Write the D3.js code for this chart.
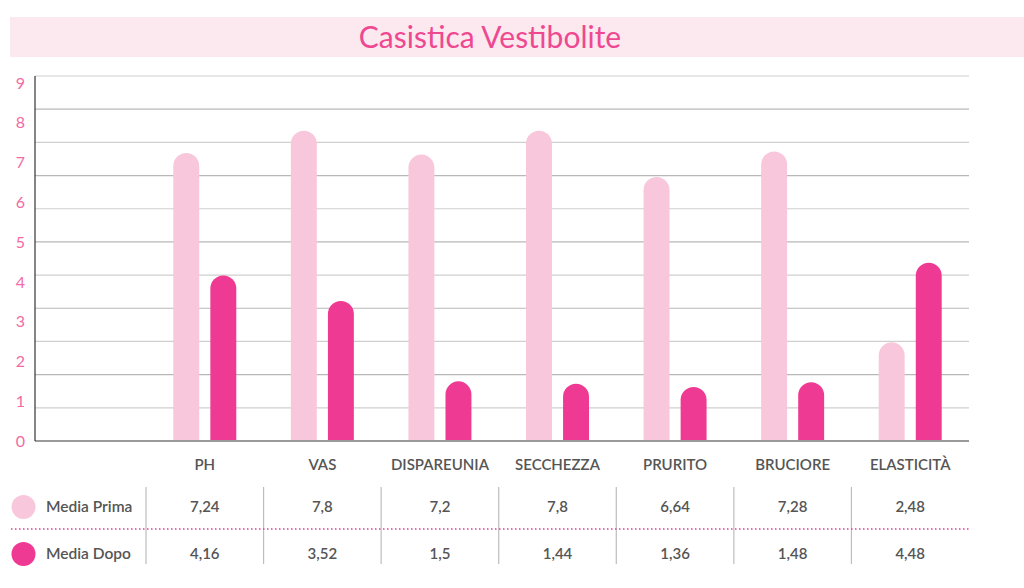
<!DOCTYPE html>
<html>
<head>
<meta charset="utf-8">
<script src="https://cdn.jsdelivr.net/npm/d3@7"></script>
<style>
  body { margin: 0; background: #fff; }
  svg { display: block; font-family: Lato, "Open Sans", sans-serif; }
</style>
</head>
<body>
<div id="chart"></div>
<script>
// Data
const categories = ["PH", "VAS", "DISPAREUNIA", "SECCHEZZA", "PRURITO", "BRUCIORE", "ELASTICITÀ"];
const mediaPrima = [7.24, 7.8, 7.2, 7.8, 6.64, 7.28, 2.48];
const mediaDopo = [4.16, 3.52, 1.5, 1.44, 1.36, 1.48, 4.48];
const seriesNames = ["Media Prima", "Media Dopo"];
const seriesColors = ["#f9c7db", "#ee3a92"];
const yTicks = [0, 1, 2, 3, 4, 5, 6, 7, 8, 9];

const width = 1024;
const height = 588;

const svg = d3
  .select("#chart")
  .append("svg")
  .attr("width", width)
  .attr("height", height);

// Title banner
svg
  .append("rect")
  .attr("x", 10)
  .attr("y", 17)
  .attr("width", width - 10)
  .attr("height", 40)
  .attr("fill", "#fce9f0");

svg
  .append("text")
  .attr("x", 490)
  .attr("y", 48)
  .attr("text-anchor", "middle")
  .attr("font-size", 30)
  .attr("fill", "#ee4890")
  .text("Casistica Vestibolite");

const plotLeft = 35;
const plotRight = 969;
const baseY = 441;

const x = d3.scaleBand().domain(categories).range([146, plotRight]);
const x1 = d3
  .scaleBand()
  .domain(seriesNames)
  .range([x.bandwidth() / 2 - 31.5, x.bandwidth() / 2 + 31.5])
  .paddingInner(0.3);

const y = d3.scaleLinear().domain([0, 9]).range([baseY, 83]);

// decorative grid (the picture's grid has 11 bands, not matching the labels)
const grid = d3.scaleLinear().domain([0, 11]).range([baseY, 76]);

svg
  .append("g")
  .attr("class", "grid")
  .selectAll("line")
  .data(grid.ticks(11).filter((d) => d > 0))
  .enter()
  .append("line")
  .attr("x1", plotLeft)
  .attr("x2", plotRight)
  .attr("y1", (d) => grid(d))
  .attr("y2", (d) => grid(d))
  .attr("stroke", (d, i) => (i % 2 ? "#b8b8b8" : "#cfcfcf"))
  .attr("stroke-width", 1.2);

// y labels
const yAxis = svg
  .append("g")
  .attr("transform", `translate(${plotLeft},0)`)
  .call(d3.axisLeft(y).tickValues(yTicks).tickSize(0).tickPadding(10));
yAxis.select(".domain").remove();
yAxis
  .selectAll("text")
  .attr("font-family", "Lato, 'Open Sans', sans-serif")
  .attr("font-size", 16)
  .attr("fill", "#f46aa3");

// bars
const barData = categories.flatMap((c, i) => [
  { cat: c, series: seriesNames[0], value: mediaPrima[i], color: seriesColors[0] },
  { cat: c, series: seriesNames[1], value: mediaDopo[i], color: seriesColors[1] },
]);

const roundTop = (d) => {
  const x0 = x(d.cat) + x1(d.series);
  const w = x1.bandwidth();
  const r = w / 2;
  const top = y(d.value);
  return `M${x0},${baseY} L${x0},${top + r} A${r},${r} 0 0 1 ${x0 + w},${top + r} L${x0 + w},${baseY} Z`;
};

svg
  .append("g")
  .selectAll("path")
  .data(barData)
  .enter()
  .append("path")
  .attr("d", roundTop)
  .attr("fill", (d) => d.color);

// axis lines
svg
  .append("line")
  .attr("x1", plotLeft)
  .attr("x2", plotRight)
  .attr("y1", baseY)
  .attr("y2", baseY)
  .attr("stroke", "#9a9a9a")
  .attr("stroke-width", 2);

svg
  .append("line")
  .attr("x1", plotLeft)
  .attr("x2", plotLeft)
  .attr("y1", 76)
  .attr("y2", baseY)
  .attr("stroke", "#333")
  .attr("stroke-width", 1.2);

// category labels
svg
  .append("g")
  .selectAll("text")
  .data(categories)
  .enter()
  .append("text")
  .attr("x", (d) => x(d) + x.bandwidth() / 2)
  .attr("y", 465)
  .attr("dy", "0.35em")
  .attr("text-anchor", "middle")
  .attr("font-size", 15)
  .attr("font-weight", 600)
  .attr("fill", "#555")
  .text((d) => d);

// data table
const rowY = [507, 554];
const rows = [mediaPrima, mediaDopo];

svg
  .append("g")
  .selectAll("line")
  .data(categories)
  .enter()
  .append("line")
  .attr("x1", (d) => x(d))
  .attr("x2", (d) => x(d))
  .attr("y1", 487)
  .attr("y2", 564)
  .attr("stroke", "#bdbdbd")
  .attr("stroke-width", 1.2);

svg
  .append("line")
  .attr("x1", 11)
  .attr("x2", plotRight)
  .attr("y1", 529)
  .attr("y2", 529)
  .attr("stroke", "#ee3a92")
  .attr("stroke-width", 1.5)
  .attr("stroke-dasharray", "1.5,2.5");

rows.forEach((vals, r) => {
  const g = svg.append("g");
  g.append("circle")
    .attr("cx", 23.5)
    .attr("cy", rowY[r])
    .attr("r", 12)
    .attr("fill", seriesColors[r]);
  g.append("text")
    .attr("x", 46)
    .attr("y", rowY[r])
    .attr("dy", "0.35em")
    .attr("font-size", 15.5)
    .attr("font-weight", 600)
    .attr("fill", "#555")
    .text(seriesNames[r]);
  g.selectAll("text.val")
    .data(vals)
    .enter()
    .append("text")
    .attr("class", "val")
    .attr("x", (d, i) => x(categories[i]) + x.bandwidth() / 2)
    .attr("y", rowY[r])
    .attr("dy", "0.35em")
    .attr("text-anchor", "middle")
    .attr("font-size", 15)
    .attr("font-weight", 600)
    .attr("fill", "#555")
    .text((d) => String(d).replace(".", ","));
});
</script>
</body>
</html>
